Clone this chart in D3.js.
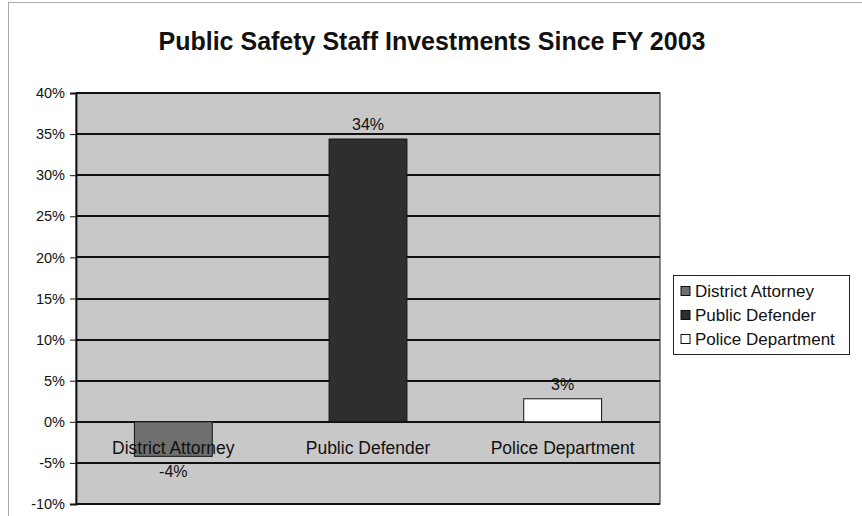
<!DOCTYPE html>
<html>
<head>
<meta charset="utf-8">
<script src="https://cdn.jsdelivr.net/npm/d3@7"></script>
<style>
  body{margin:0;background:#fff;}
  svg{display:block;font-family:"Liberation Sans",Arial,sans-serif;}
</style>
</head>
<body>
<div id="chart"></div>
<script>
// data
const categories = ["District Attorney", "Public Defender", "Police Department"];
const values = [-4.2, 34.4, 2.8];
const barColors = ["#6f6f6f", "#2e2e2e", "#ffffff"];
const yTicks = [-10, -5, 0, 5, 10, 15, 20, 25, 30, 35, 40];

const W = 862, H = 516;
const MG = {t:93, r:202, l:76};
const iW = W - MG.l - MG.r, iH = 411;

const svg = d3.select("#chart").append("svg").attr("width", W).attr("height", H);

// outer chart frame (runs off the right and bottom)
svg.append("rect").attr("x", 8.5).attr("y", 2.5).attr("width", W + 10).attr("height", H + 10)
  .attr("fill", "#fff").attr("stroke", "#555").attr("stroke-width", 1).attr("stroke-dasharray", "1,1");

svg.append("text").attr("x", 432).attr("y", 50).attr("text-anchor", "middle")
  .attr("font-size", 25).attr("font-weight", "bold").attr("fill", "#111")
  .text("Public Safety Staff Investments Since FY 2003");

const g = svg.append("g").attr("transform", `translate(${MG.l},${MG.t})`);

const x = d3.scaleBand().domain(categories).range([0, iW]).paddingInner(0.6).paddingOuter(0.3);
const y = d3.scaleLinear().domain([-10, 40]).range([iH, 0]);

// plot area
g.append("rect").attr("width", iW).attr("height", iH).attr("fill", "#c8c8c8")
  .attr("stroke", "#222").attr("stroke-width", 1);

// gridlines
g.append("g").selectAll("line").data(yTicks).join("line")
  .attr("x1", 0).attr("x2", iW)
  .attr("y1", d => Math.round(y(d))).attr("y2", d => Math.round(y(d)))
  .attr("stroke", "#111").attr("stroke-width", 1.8);

// y axis
const yAxis = g.append("g")
  .call(d3.axisLeft(y).tickValues(yTicks).tickSize(6).tickPadding(5).tickFormat(d => d + "%"));
yAxis.select(".domain").attr("stroke", "#111").attr("stroke-width", 1.8);
yAxis.selectAll(".tick line").attr("stroke", "#111");
yAxis.selectAll(".tick text").attr("font-size", 14.5).attr("fill", "#111")
  .attr("font-family", "'Liberation Sans',Arial,sans-serif");

// bars
g.selectAll(".bar").data(categories).join("rect").attr("class", "bar")
  .attr("x", d => x(d))
  .attr("width", x.bandwidth())
  .attr("y", (d, i) => y(Math.max(0, values[i])))
  .attr("height", (d, i) => Math.abs(y(values[i]) - y(0)))
  .attr("fill", (d, i) => barColors[i])
  .attr("stroke", "#111").attr("stroke-width", 1);

// value labels
g.selectAll(".val").data(categories).join("text").attr("class", "val")
  .attr("x", d => x(d) + x.bandwidth() / 2)
  .attr("y", (d, i) => values[i] >= 0 ? y(values[i]) - 9 : y(values[i]) + 21)
  .attr("text-anchor", "middle").attr("font-size", 16).attr("fill", "#111")
  .text((d, i) => Math.round(values[i]) + "%");

// category labels just under the zero line
g.selectAll(".cat").data(categories).join("text").attr("class", "cat")
  .attr("x", d => x(d) + x.bandwidth() / 2)
  .attr("y", y(0) + 32)
  .attr("text-anchor", "middle").attr("font-size", 17.5).attr("fill", "#111")
  .text(d => d);

// legend
const lg = svg.append("g").attr("transform", "translate(673,275)");
lg.append("rect").attr("x", 0.5).attr("y", 0.5).attr("width", 176).attr("height", 79)
  .attr("fill", "#fff").attr("stroke", "#222").attr("stroke-width", 1);
categories.forEach((c, i) => {
  const row = lg.append("g").attr("transform", `translate(8,${16 + i * 24})`);
  row.append("rect").attr("x", 0).attr("y", -4.5).attr("width", 9).attr("height", 9)
    .attr("fill", barColors[i]).attr("stroke", "#111").attr("stroke-width", 1);
  row.append("text").attr("x", 14).attr("y", 6).attr("font-size", 17).attr("fill", "#111").text(c);
});
</script>
</body>
</html>
